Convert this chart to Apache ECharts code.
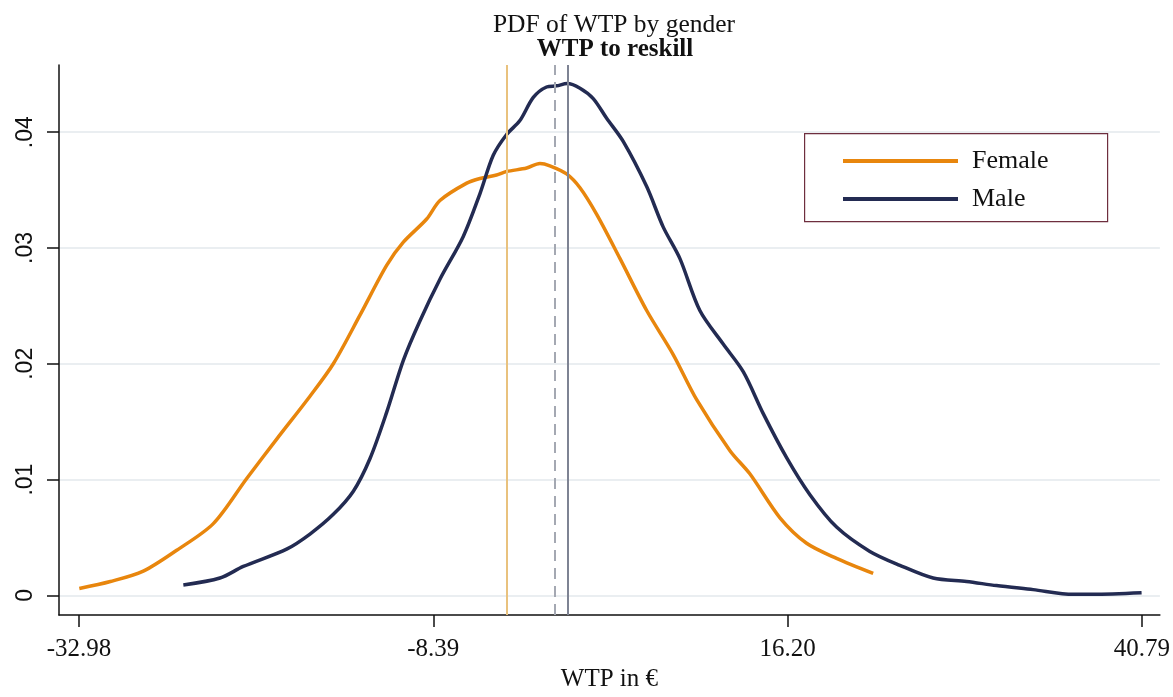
<!DOCTYPE html>
<html>
<head>
<meta charset="utf-8">
<script src="https://cdn.jsdelivr.net/npm/echarts@6/dist/echarts.min.js"></script>
<style>html,body{margin:0;padding:0;background:#fff}#c{width:1173px;height:697px}</style>
</head>
<body>
<div id="c"></div>
<script>
const titleText = 'PDF of WTP by gender';
const subtitleText = 'WTP to reskill';
const xAxisTitle = 'WTP in €';
const seriesNames = ['Female', 'Male'];
const xTicks = [-32.98, -8.39, 16.20, 40.79];
const yTicks = [0, 0.01, 0.02, 0.03, 0.04];

const femaleX = [-32.96, -30.8, -28.52, -26.2, -23.66, -21.34, -19.26, -16.95, -15.33, -13.48, -11.63, -10.47, -8.85, -7.93, -6.07, -5.15, -4.0, -3.30, -1.91, -0.99, -0.30, 0.86, 1.79, 2.95, 4.56, 6.42, 8.26, 9.89, 12.20, 13.58, 15.67, 17.52, 19.6, 22.14];
const femaleY = [0.0006, 0.0012, 0.0021, 0.0039, 0.0062, 0.0101, 0.0135, 0.0172, 0.0200, 0.0242, 0.0285, 0.0305, 0.0325, 0.0341, 0.0356, 0.0360, 0.0363, 0.0366, 0.0369, 0.0373, 0.0371, 0.0364, 0.0352, 0.0329, 0.0291, 0.0246, 0.0208, 0.0169, 0.0125, 0.0105, 0.0067, 0.0045, 0.0032, 0.0019];

const maleX = [-25.74, -23.20, -21.58, -18.57, -16.95, -15.33, -13.94, -12.79, -11.63, -10.47, -9.32, -7.93, -6.31, -5.15, -4.23, -3.30, -2.38, -1.45, -0.53, 0.17, 0.90, 1.79, 2.71, 3.64, 4.79, 6.42, 7.57, 8.72, 10.11, 11.73, 13.13, 14.51, 16.13, 17.75, 19.6, 21.91, 23.99, 26.3, 28.62, 30.70, 33.24, 36.02, 37.41, 40.77];
const maleY = [0.0009, 0.0015, 0.0025, 0.0040, 0.0053, 0.0070, 0.0090, 0.0118, 0.0158, 0.0203, 0.0237, 0.0273, 0.0310, 0.0347, 0.0380, 0.0398, 0.0410, 0.0430, 0.0439, 0.0440, 0.0442, 0.0438, 0.0429, 0.0412, 0.0392, 0.0353, 0.0318, 0.0291, 0.0246, 0.0217, 0.0193, 0.0157, 0.0119, 0.0087, 0.0059, 0.0038, 0.0026, 0.0015, 0.0012, 0.00085, 0.0005, 0.0001, 0.0001, 0.00023];

// vertical reference lines: female mean, overall, male mean
const refLines = [-3.28, 0.05, 0.95];

const serif = '"Liberation Serif", "Times New Roman", serif';
const sans = '"Liberation Sans", Arial, sans-serif';

const zip = (xs, ys) => xs.map((x, i) => [x, ys[i]]);

const chart = echarts.init(document.getElementById('c'), null, {renderer: 'canvas'});
chart.setOption({
  animation: false,
  backgroundColor: '#fff',
  title: [
    {text: titleText, left: 609, top: 7, textAlign: 'center',
     textStyle: {fontFamily: serif, fontWeight: 'normal', fontSize: 25.5, color: '#111'}},
    {text: subtitleText, left: 610, top: 32, textAlign: 'center',
     textStyle: {fontFamily: serif, fontWeight: 'bold', fontSize: 25, color: '#111'}}
  ],
  grid: {left: 59, right: 13, top: 65, bottom: 71, containLabel: false},
  graphic: [{
    type: 'rect', left: 804, top: 133, z: 10,
    shape: {width: 303, height: 88},
    style: {fill: '#fff', stroke: '#6e2e3e', lineWidth: 1.2}
  }],
  legend: {
    orient: 'vertical', left: 838, top: 143, z: 20,
    icon: 'rect', itemWidth: 115, itemHeight: 4, itemGap: 12,
    textStyle: {fontFamily: serif, fontSize: 26, color: '#111', lineHeight: 26, padding: [0, 0, 0, 9]},
    data: seriesNames
  },
  xAxis: {
    type: 'value', min: -34.37, max: 42.04,
    name: xAxisTitle, nameLocation: 'middle', nameGap: 43,
    nameTextStyle: {fontFamily: serif, fontSize: 25, color: '#111'},
    axisLine: {onZero: false, lineStyle: {color: '#111', width: 1.5}},
    axisTick: {show: true, length: 12, customValues: xTicks, lineStyle: {color: '#111', width: 1.5}},
    axisLabel: {customValues: xTicks, margin: 22, fontFamily: serif, fontSize: 25, color: '#111',
      formatter: v => v.toFixed(2)},
    splitLine: {show: false}
  },
  yAxis: {
    type: 'value', min: -0.0017, max: 0.0458,
    axisLine: {show: true, onZero: false, lineStyle: {color: '#111', width: 1.5}},
    axisTick: {show: true, length: 12, customValues: yTicks, lineStyle: {color: '#111', width: 1.5}},
    axisLabel: {customValues: yTicks, rotate: 90, margin: 22, fontFamily: sans, fontSize: 23, color: '#111',
      formatter: v => v === 0 ? '0' : ('.' + (Math.round(v * 100)).toString().padStart(2, '0'))},
    splitLine: {show: true, lineStyle: {color: '#eaeef1', width: 2}}
  },
  series: [
    {
      name: 'ref', type: 'line', data: [], z: 1, silent: true,
      markLine: {
        silent: true, symbol: 'none', label: {show: false}, animation: false,
        data: [
          {xAxis: refLines[0], lineStyle: {color: '#e9c27e', width: 2, type: 'solid'}},
          {xAxis: refLines[1], lineStyle: {color: '#a4a8b2', width: 2, type: [11, 7]}},
          {xAxis: refLines[2], lineStyle: {color: '#7e8393', width: 2, type: 'solid'}}
        ]
      }
    },
    {
      name: seriesNames[0], type: 'line', data: zip(femaleX, femaleY), z: 3,
      showSymbol: false, smooth: 0.3, color: '#e8860d',
      lineStyle: {color: '#e8860d', width: 3.5}
    },
    {
      name: seriesNames[1], type: 'line', data: zip(maleX, maleY), z: 4,
      showSymbol: false, smooth: 0.3, color: '#232b52',
      lineStyle: {color: '#232b52', width: 3.5}
    }
  ]
});
</script>
</body>
</html>
